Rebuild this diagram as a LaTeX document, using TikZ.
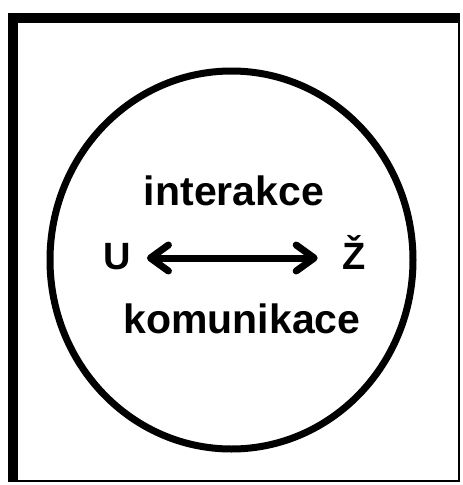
\documentclass[tikz,border=0pt]{standalone}
\usepackage{fontspec}
\setmainfont{Liberation Sans}
\usetikzlibrary{arrows.meta}

\begin{document}
\begin{tikzpicture}[
      x=1pt, y=-1pt,
      word/.style={anchor=base, inner sep=0pt, font=\bfseries\fontsize{41}{41}\selectfont},
      side/.style={anchor=base, inner sep=0pt, text height=22pt, text depth=0pt, font=\bfseries\fontsize{38}{38}\selectfont},
      biarrow/.style={{Straight Barb[length=18pt, width=26pt, round]}-{Straight Barb[length=18pt, width=26pt, round]}, line width=7pt}
    ]
    \useasboundingbox (0,0) rectangle (463,485);

    % frame: heavy top and left edge
    \draw[line width=2pt] (9,14) rectangle (459,481);
    \fill (8,13) rectangle (18,481);
    \fill (8,13) rectangle (459,23);

    \draw[line width=7pt] (231.5,260) ellipse [x radius=181.5, y radius=189];

    \node[word] (inter) at (234,205) {interakce};
    \node[word] (komun) at (242,333) {komunikace};
    \node[side] (U) at (117,269) {U};
    \node[side] (Z) at (354.5,269) {Ž};

    \draw[biarrow, shorten <=16pt, shorten >=25pt] (U) -- (Z);
  \end{tikzpicture}
\end{document}
